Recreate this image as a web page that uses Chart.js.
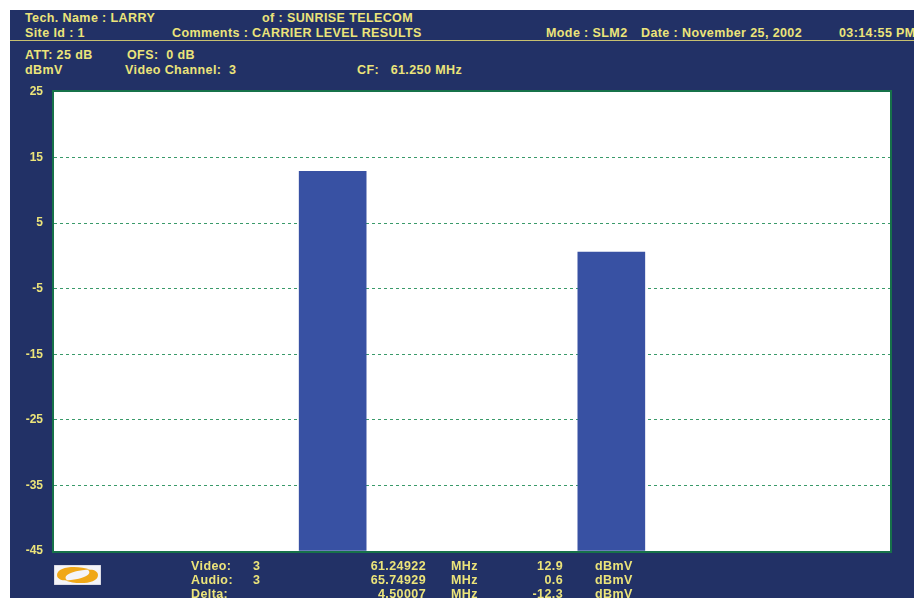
<!DOCTYPE html>
<html><head><meta charset="utf-8">
<script src="https://cdn.jsdelivr.net/npm/chart.js@4/dist/chart.umd.min.js"></script>
<style>
html,body{margin:0;padding:0;background:#fff;width:914px;height:598px;overflow:hidden;}
#bg{position:absolute;left:10px;top:10px;width:904px;height:588px;background:#223166;}
#hl{position:absolute;left:10px;top:40px;width:904px;height:1px;background:#c8c070;}
.t{position:absolute;color:#ece47a;font-family:"Liberation Sans",Arial,sans-serif;font-size:12.5px;font-weight:bold;letter-spacing:0.4px;line-height:14px;white-space:pre;}
#c{position:absolute;left:0;top:0;}
#logo{position:absolute;left:54px;top:565px;width:47px;height:20px;}
</style></head>
<body>
<div id="bg"></div>
<div id="hl"></div>
<div class="t" style="left:25px;top:11px">Tech. Name : LARRY</div>
<div class="t" style="left:262px;top:11px">of : SUNRISE TELECOM</div>
<div class="t" style="left:25px;top:26px">Site Id : 1</div>
<div class="t" style="left:172px;top:26px">Comments : CARRIER LEVEL RESULTS</div>
<div class="t" style="left:546px;top:26px">Mode : SLM2</div>
<div class="t" style="left:641px;top:26px">Date : November 25, 2002</div>
<div class="t" style="left:839px;top:26px">03:14:55 PM</div>
<div class="t" style="left:25px;top:48px">ATT: 25 dB</div>
<div class="t" style="left:127px;top:48px">OFS:  0 dB</div>
<div class="t" style="left:25px;top:63px">dBmV</div>
<div class="t" style="left:125px;top:63px">Video Channel:  3</div>
<div class="t" style="left:357px;top:63px">CF:   61.250 MHz</div>
<canvas id="c" width="914" height="598"></canvas>
<svg id="logo" viewBox="0 0 47 20"><rect x="0" y="0" width="47" height="20" fill="#f4f4f8" stroke="#b8b8c8" stroke-width="0.8"/>
<g id="sw"><path d="M36 4.5 C24 0 3 1 3 10 C3 14 8 16 13 15 C9 12 13 6 36 4.5 Z" fill="#f0a818"/></g>
<use href="#sw" transform="rotate(180 23.5 10)"/>
</svg>
<div id="foot"></div>
<script>
const categories = ['', 'Video', 'Audio', ''];
const levels = [null, 12.9, 0.6, null];
const yTicks = [25, 15, 5, -5, -15, -25, -35, -45];
const footRows = [
  ['Video:', '3', '61.24922', 'MHz', '12.9', 'dBmV'],
  ['Audio:', '3', '65.74929', 'MHz', '0.6', 'dBmV'],
  ['Delta:', '', '4.50007', 'MHz', '-12.3', 'dBmV']
];

const foot = document.getElementById('foot');
footRows.forEach((row, i) => {
  const top = 559 + i * 14;
  const cells = [
    {x: 191, txt: row[0]}, {x: 253, txt: row[1]},
    {x: 426, txt: row[2], right: true}, {x: 451, txt: row[3]},
    {x: 563, txt: row[4], right: true}, {x: 595, txt: row[5]}
  ];
  cells.forEach(c => {
    const d = document.createElement('div');
    d.className = 't';
    d.textContent = c.txt;
    d.style.top = top + 'px';
    if (c.right) { d.style.right = (914 - c.x) + 'px'; } else { d.style.left = c.x + 'px'; }
    foot.appendChild(d);
  });
});

const areaPlugin = {
  id: 'area',
  beforeDraw(chart) {
    const {ctx, chartArea: a} = chart;
    ctx.save();
    ctx.fillStyle = '#ffffff';
    ctx.fillRect(a.left, a.top, a.right - a.left, a.bottom - a.top);
    ctx.restore();
  },
  afterDraw(chart) {
    const {ctx, chartArea: a} = chart;
    ctx.save();
    ctx.strokeStyle = '#17724a';
    ctx.lineWidth = 2;
    ctx.strokeRect(a.left - 1, a.top - 1, a.right - a.left + 2, a.bottom - a.top + 2);
    ctx.restore();
  }
};

new Chart(document.getElementById('c'), {
  type: 'bar',
  data: {
    labels: categories,
    datasets: [{
      data: levels,
      backgroundColor: '#3851a3',
      borderWidth: 0,
      barThickness: 67,
      base: -45
    }]
  },
  options: {
    responsive: false,
    animation: false,
    events: [],
    layout: {padding: {left: 10, top: 92, right: 24, bottom: 47}},
    plugins: {legend: {display: false}, tooltip: {enabled: false}, title: {display: false}},
    scales: {
      x: {display: false, offset: false, grid: {display: false}},
      y: {
        min: -45, max: 25,
        afterFit(s) { s.width = 44; },
        afterBuildTicks(s) { s.ticks = yTicks.map(v => ({value: v})); },
        ticks: {
          color: '#ece47a',
          padding: 11,
          font: {family: '"Liberation Sans", Arial, sans-serif', size: 12, weight: 'bold'}
        },
        grid: {
          color: ctx => (ctx.tick && (ctx.tick.value === 25 || ctx.tick.value === -45)) ? 'rgba(0,0,0,0)' : '#3a9a6a',
          lineWidth: 1, drawTicks: false
        },
        border: {display: false, dash: [3, 3]}
      }
    }
  },
  plugins: [areaPlugin]
});
</script>
</body></html>
